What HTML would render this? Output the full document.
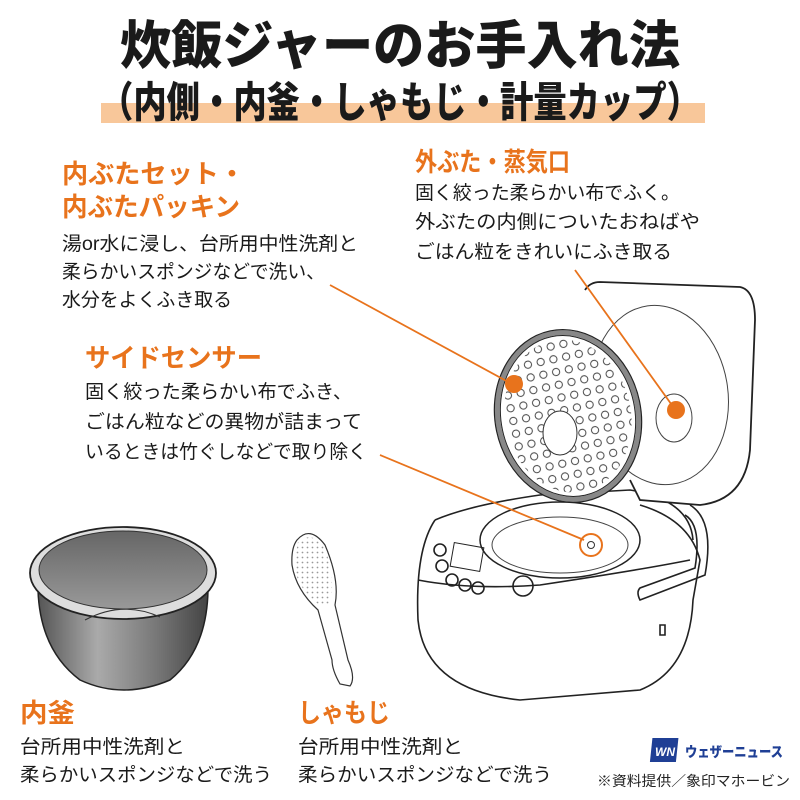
<!DOCTYPE html>
<html><head><meta charset="utf-8"><style>
html,body{margin:0;padding:0;background:#fff}
svg{display:block}
text{font-family:"Liberation Sans","Noto Sans CJK JP",sans-serif}
.t{font-weight:900;fill:#1a1a1a}
.o{font-weight:700;fill:#e8731c;font-size:26px}
.b{fill:#1a1a1a;font-size:19px}
.ln{fill:none;stroke:#222;stroke-width:1.6}
</style></head><body>
<svg width="800" height="800" viewBox="0 0 800 800" xmlns="http://www.w3.org/2000/svg">
<defs>
<linearGradient id="pg" x1="0" x2="1"><stop offset="0" stop-color="#555"/><stop offset=".35" stop-color="#aaa"/><stop offset=".7" stop-color="#777"/><stop offset="1" stop-color="#444"/></linearGradient>
<linearGradient id="pi" x1="0" x2="0" y1="0" y2="1"><stop offset="0" stop-color="#666"/><stop offset="1" stop-color="#999"/></linearGradient>
<pattern id="dots" width="5" height="5" patternUnits="userSpaceOnUse"><circle cx="2.5" cy="2.5" r="0.9" fill="#999"/></pattern>
<pattern id="holes" width="13" height="13" patternUnits="userSpaceOnUse"><circle cx="6.5" cy="6.5" r="3.6" fill="none" stroke="#444" stroke-width="1"/></pattern>
</defs>
<rect x="101" y="103" width="604" height="20" fill="#f8c79a"/>
<text class="t" x="120" y="64" font-size="52" textLength="560" lengthAdjust="spacingAndGlyphs">炊飯ジャーのお手入れ法</text>
<text class="t" x="100" y="117" font-size="42" textLength="600" lengthAdjust="spacingAndGlyphs">（内側・内釜・しゃもじ・計量カップ）</text>

<text class="o" x="62" y="183" textLength="183" lengthAdjust="spacingAndGlyphs">内ぶたセット・</text>
<text class="o" x="62" y="216" textLength="178" lengthAdjust="spacingAndGlyphs">内ぶたパッキン</text>
<text class="b" x="62" y="250" textLength="296" lengthAdjust="spacingAndGlyphs">湯or水に浸し、台所用中性洗剤と</text>
<text class="b" x="62" y="278" textLength="263" lengthAdjust="spacingAndGlyphs">柔らかいスポンジなどで洗い、</text>
<text class="b" x="62" y="306" textLength="170" lengthAdjust="spacingAndGlyphs">水分をよくふき取る</text>

<text class="o" x="415" y="171" textLength="155" lengthAdjust="spacingAndGlyphs">外ぶた・蒸気口</text>
<text class="b" x="415" y="199" textLength="265" lengthAdjust="spacingAndGlyphs">固く絞った柔らかい布でふく。</text>
<text class="b" x="415" y="228" textLength="285" lengthAdjust="spacingAndGlyphs">外ぶたの内側についたおねばや</text>
<text class="b" x="415" y="258" textLength="257" lengthAdjust="spacingAndGlyphs">ごはん粒をきれいにふき取る</text>

<text class="o" x="85" y="367" textLength="177" lengthAdjust="spacingAndGlyphs">サイドセンサー</text>
<text class="b" x="85" y="398" textLength="267" lengthAdjust="spacingAndGlyphs">固く絞った柔らかい布でふき、</text>
<text class="b" x="85" y="428" textLength="277" lengthAdjust="spacingAndGlyphs">ごはん粒などの異物が詰まって</text>
<text class="b" x="85" y="458" textLength="282" lengthAdjust="spacingAndGlyphs">いるときは竹ぐしなどで取り除く</text>

<text class="o" x="20" y="722" textLength="55" lengthAdjust="spacingAndGlyphs">内釜</text>
<text class="b" x="20" y="753" textLength="165" lengthAdjust="spacingAndGlyphs">台所用中性洗剤と</text>
<text class="b" x="20" y="781" textLength="252" lengthAdjust="spacingAndGlyphs">柔らかいスポンジなどで洗う</text>
<text class="o" x="298" y="722" textLength="92" lengthAdjust="spacingAndGlyphs">しゃもじ</text>
<text class="b" x="298" y="753" textLength="165" lengthAdjust="spacingAndGlyphs">台所用中性洗剤と</text>
<text class="b" x="298" y="781" textLength="254" lengthAdjust="spacingAndGlyphs">柔らかいスポンジなどで洗う</text>

<rect x="652" y="738" width="26" height="24" fill="#1f3f95" transform="skewX(-6) translate(78 0)"/>
<text x="655" y="756" font-size="12" font-weight="900" fill="#fff" font-style="italic">WN</text>
<text x="685" y="757" font-size="14" font-weight="900" fill="#1f3f95" textLength="98" lengthAdjust="spacingAndGlyphs">ウェザーニュース</text>
<text x="597" y="786" font-size="14" fill="#222" textLength="193" lengthAdjust="spacingAndGlyphs">※資料提供／象印マホービン</text>

<!-- pot -->
<path d="M38 590 Q40 650 80 680 Q123 700 170 680 Q207 650 208 590 Z" fill="url(#pg)" stroke="#222" stroke-width="1.5"/>
<ellipse cx="123" cy="573" rx="93" ry="46" fill="#ddd" stroke="#222" stroke-width="1.8"/>
<ellipse cx="123" cy="570" rx="84" ry="39" fill="url(#pi)" stroke="#333"/>
<path d="M85 620 Q123 600 160 617" fill="none" stroke="#333"/>
<!-- spoon -->
<path d="M297 540 Q310 525 325 545 Q340 580 335 605 L348 660 Q356 678 350 686 L340 684 Q332 670 332 660 L318 610 Q296 590 292 565 Q291 548 297 540 Z" fill="#fff" stroke="#333" stroke-width="1.2"/>
<path d="M298 542 Q312 530 325 548 Q336 580 330 604 L318 604 Q297 588 294 565 Z" fill="url(#dots)"/>

<!-- cooker body -->
<path class="ln" d="M435 520 Q415 550 418 620 Q425 690 520 700 L640 690 Q690 670 693 600 L700 560 Q690 520 640 505" fill="#fff"/>
<path class="ln" d="M418 580 Q470 590 540 585 Q640 570 690 560"/>
<path class="ln" d="M435 520 Q470 505 540 495 L630 490 Q690 500 693 540" />
<ellipse cx="560" cy="540" rx="80" ry="38" fill="#fff" stroke="#222" stroke-width="1.5"/>
<ellipse cx="560" cy="545" rx="68" ry="28" fill="none" stroke="#444"/>
<path class="ln" d="M690 505 Q715 520 705 575 L640 600 Q636 592 640 588 L695 568 Q702 525 685 515"/>
<rect x="452" y="545" width="30" height="24" fill="none" stroke="#222" transform="rotate(10 467 557)"/>
<circle cx="440" cy="550" r="6" class="ln"/><circle cx="442" cy="566" r="6" class="ln"/><circle cx="452" cy="580" r="6" class="ln"/><circle cx="465" cy="585" r="6" class="ln"/><circle cx="478" cy="588" r="6" class="ln"/>
<circle cx="523" cy="586" r="10" class="ln"/>
<path class="ln" d="M660 625 l5 0 l0 10 l-5 0 z"/>
<!-- outer lid -->
<path d="M585 290 Q590 282 600 282 L740 287 Q755 290 755 320 L750 450 Q745 500 700 505 L640 500 L630 480" fill="#fff" stroke="#222" stroke-width="1.8"/>
<ellipse cx="660" cy="395" rx="68" ry="90" fill="none" stroke="#444" transform="rotate(-8 660 395)"/>
<ellipse cx="674" cy="418" rx="18" ry="24" fill="none" stroke="#444"/>
<!-- inner lid -->
<ellipse cx="568" cy="416" rx="70" ry="84" fill="#fff" stroke="#888" stroke-width="5" transform="rotate(-12 568 416)"/>
<ellipse cx="568" cy="416" rx="63" ry="77" fill="url(#holes)" transform="rotate(-12 568 416)"/>
<ellipse cx="560" cy="433" rx="17" ry="22" fill="#fff" stroke="#333"/>
<ellipse cx="568" cy="416" rx="73" ry="87" fill="none" stroke="#222" stroke-width="1.2" transform="rotate(-12 568 416)"/>
<ellipse cx="568" cy="416" rx="67" ry="81" fill="none" stroke="#222" stroke-width="1" transform="rotate(-12 568 416)"/>

<!-- callouts -->
<g stroke="#e8731c" stroke-width="1.8" fill="none">
<line x1="330" y1="285" x2="512" y2="384"/>
<line x1="575" y1="270" x2="674" y2="408"/>
<line x1="380" y1="455" x2="584" y2="540"/>
<circle cx="591" cy="545" r="11" stroke-width="2"/>
</g>
<circle cx="514" cy="384" r="9" fill="#e8731c"/>
<circle cx="676" cy="410" r="9" fill="#e8731c"/>
<circle cx="591" cy="545" r="3.5" fill="none" stroke="#333"/>
</svg>
</body></html>
